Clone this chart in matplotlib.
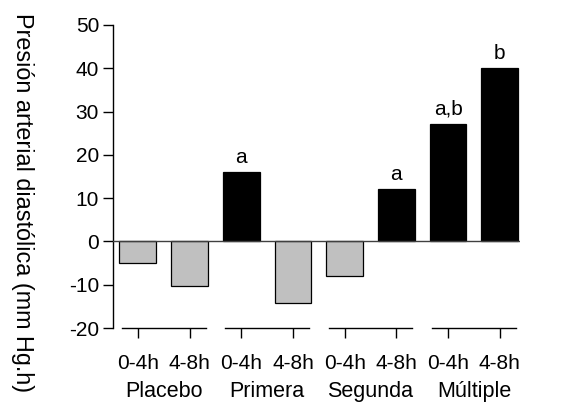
import numpy as np
import matplotlib.pyplot as plt

plt.rcParams['font.family'] = ['Liberation Sans', 'DejaVu Sans']
plt.rcParams['axes.unicode_minus'] = False

groups = ['Placebo', 'Primera', 'Segunda', 'Múltiple']
periods = ['0-4h', '4-8h']
values = [-5, -10.3, 16, -14.2, -8.1, 12, 27.2, 40]
significant = [False, False, True, False, False, True, True, True]
letters = ['', '', 'a', '', '', 'a', 'a,b', 'b']

fig = plt.figure(figsize=(5.76, 4.05), dpi=100)
ax = fig.add_axes([113/576, 1 - 328/405, (520 - 113)/576, (328 - 25)/405])

x = np.arange(len(values))
colors = ['black' if s else '#c0c0c0' for s in significant]
ax.bar(x, values, width=0.71, color=colors, edgecolor='black', linewidth=0.9, zorder=2)
ax.axhline(0, color='#404040', lw=1.0, zorder=3)

for xi, v, t in zip(x, values, letters):
    if t:
        ax.text(xi, v + 1.2, t, ha='center', va='bottom', fontsize=15)

ax.set_xlim(-0.48, 7.39)
ax.set_ylim(-20, 50)
ax.set_yticks(np.arange(-20, 51, 10))
ax.tick_params(axis='y', labelsize=15, length=7, width=1, pad=3)
ax.set_xticks(x)
ax.set_xticklabels(periods * len(groups), fontsize=15)
ax.tick_params(axis='x', length=7, width=1, pad=12)

for side in ['top', 'right', 'bottom']:
    ax.spines[side].set_visible(False)
ax.spines['left'].set_linewidth(1)

# group underline bars
for i, g in enumerate(groups):
    x0 = 2 * i - 0.31
    x1 = 2 * i + 1.31
    ax.plot([x0, x1], [-20, -20], color='black', lw=1, clip_on=False)
    ax.text(2 * i + 0.5, -34.6, g, ha='center', va='center', fontsize=15.5)

fig.text(22/576, 1 - 203/405, 'Presión arterial diastólica (mm Hg.h)',
         rotation=270, ha='center', va='center', fontsize=16.8)

fig.savefig('out.png', dpi=100)
